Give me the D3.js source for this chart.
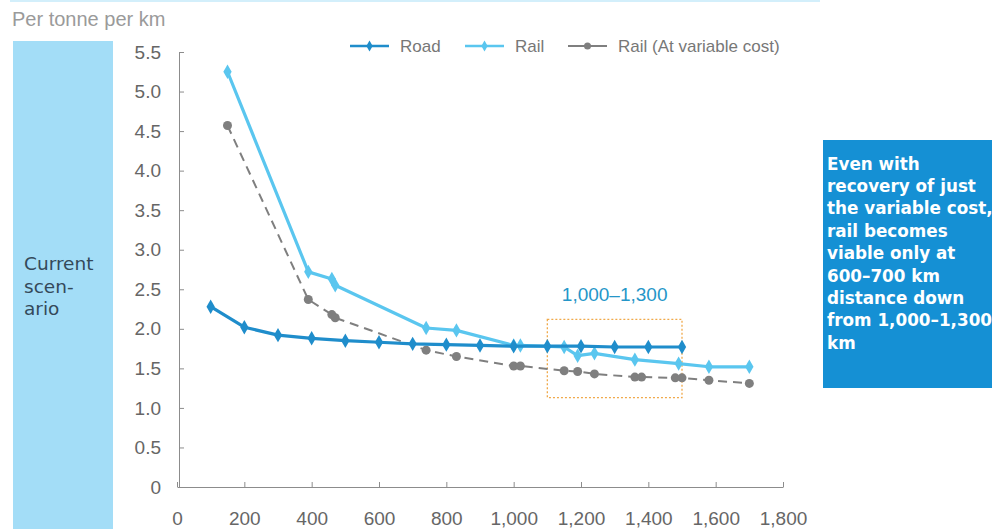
<!DOCTYPE html>
<html>
<head>
<meta charset="utf-8">
<script src="https://cdn.jsdelivr.net/npm/d3@7"></script>
<style>
  html, body { margin: 0; padding: 0; background: #fff; }
  svg { display: block; font-family: "Liberation Sans", Arial, sans-serif; }
</style>
</head>
<body>
<svg id="chart" width="992" height="529"></svg>
<script>
// Freight cost per tonne per km by haul distance (km)
const roadKm   = [100, 200, 300, 400, 500, 600, 700, 800, 900, 1000, 1100, 1200, 1300, 1400, 1500];
const roadCost = [2.28, 2.02, 1.92, 1.88, 1.85, 1.83, 1.81, 1.80, 1.79, 1.78, 1.78, 1.78, 1.77, 1.77, 1.77];

const railKm   = [150, 390, 460, 470, 740, 830, 1000, 1020, 1150, 1190, 1240, 1360, 1490, 1580, 1700];
const railCost = [5.25, 2.72, 2.63, 2.55, 2.01, 1.98, 1.79, 1.79, 1.77, 1.66, 1.69, 1.61, 1.56, 1.52, 1.52];

const varKm    = [150, 390, 460, 470, 740, 830, 1000, 1020, 1150, 1190, 1240, 1360, 1380, 1480, 1500, 1580, 1700];
const varCost  = [4.57, 2.37, 2.18, 2.14, 1.73, 1.65, 1.53, 1.53, 1.47, 1.46, 1.43, 1.39, 1.39, 1.38, 1.38, 1.35, 1.31];

const xTicks = [0, 200, 400, 600, 800, 1000, 1200, 1400, 1600, 1800];
const yTicks = [0, 0.5, 1.0, 1.5, 2.0, 2.5, 3.0, 3.5, 4.0, 4.5, 5.0, 5.5];

const seriesNames = ["Road", "Rail", "Rail (At variable  cost)"];
const highlightKm = [1100, 1500];
const highlightCost = [1.13, 2.12];
const highlightLabel = "1,000\u20131,300";
const noteLines = ["Even with", "recovery of just", "the variable cost,", "rail becomes",
  "viable only at", "600\u2013700 km", "distance down", "from 1,000\u20131,300", "km"];
const scenarioLines = ["Current", "scen-", "ario"];

const ROAD = "#1f8dcb", RAIL = "#5ac6ef", VAR = "#7f7f7f";

const svg = d3.select("#chart");

// thin band along the top edge
svg.append("rect").attr("x", 10).attr("y", 0).attr("width", 810).attr("height", 2)
  .attr("fill", "#d3effb");

// unit caption
svg.append("text").attr("x", 12).attr("y", 26).text("Per tonne per km")
  .attr("font-size", 20).attr("fill", "#9a9a9a");

// scenario side panel
svg.append("rect").attr("x", 13).attr("y", 41).attr("width", 100).attr("height", 500)
  .attr("fill", "#a3ddf7");
svg.append("g").selectAll("text").data(scenarioLines).join("text")
  .attr("x", 24).attr("y", (d, i) => 270 + i * 22.5)
  .attr("font-family", "DejaVu Sans, sans-serif")
  .attr("font-size", 18.5).attr("fill", "#34495a").text(d => d);

const x = d3.scaleLinear().domain([0, 1800]).range([177, 783]);
const y = d3.scaleLinear().domain([0, 5.5]).range([487, 52]);

// axes with inward ticks
const xAxis = svg.append("g").attr("transform", `translate(0,${y(0)})`)
  .call(d3.axisBottom(x).tickValues(xTicks).tickSizeInner(-5).tickSizeOuter(0).tickPadding(24)
    .tickFormat(d3.format(",")));
const yAxis = svg.append("g").attr("transform", `translate(${x(0) + 2},0)`)
  .call(d3.axisLeft(y).tickValues(yTicks).tickSizeInner(-5).tickSizeOuter(0).tickPadding(18)
    .tickFormat(d => d === 0 ? "0" : d3.format(".1f")(d)));
[xAxis, yAxis].forEach(a => {
  a.select(".domain").attr("stroke", "#8c8c8c");
  a.selectAll(".tick line").attr("stroke", "#8c8c8c");
  a.selectAll(".tick text").attr("fill", "#666").attr("font-size", 19)
    .attr("font-family", "Liberation Sans, Arial, sans-serif");
});
xAxis.selectAll(".tick text").attr("dy", "0.75em");

// highlighted distance band
svg.append("rect")
  .attr("x", x(highlightKm[0])).attr("y", y(highlightCost[1]))
  .attr("width", x(highlightKm[1]) - x(highlightKm[0]))
  .attr("height", y(highlightCost[0]) - y(highlightCost[1]))
  .attr("fill", "none").attr("stroke", "#f0a94a").attr("stroke-width", 1.3)
  .attr("stroke-dasharray", "2,2");
svg.append("text")
  .attr("x", x((highlightKm[0] + highlightKm[1]) / 2)).attr("y", 301)
  .attr("text-anchor", "middle").attr("font-size", 19).attr("fill", "#2596c8")
  .text(highlightLabel);

const line = d3.line().x(d => x(d[0])).y(d => y(d[1]));
const diamond = d3.symbol().type(d3.symbolDiamond).size(60);

function drawSeries(kms, vals, color, width, dash, marker) {
  const pts = kms.map((k, i) => [k, vals[i]]);
  const g = svg.append("g");
  g.append("path").datum(pts).attr("d", line).attr("fill", "none")
    .attr("stroke", color).attr("stroke-width", width)
    .attr("stroke-dasharray", dash || null).attr("stroke-linejoin", "round");
  if (marker === "diamond") {
    g.selectAll("path.m").data(pts).join("path").attr("class", "m")
      .attr("d", diamond).attr("fill", color)
      .attr("transform", d => `translate(${x(d[0])},${y(d[1])})`);
  } else {
    g.selectAll("circle").data(pts).join("circle")
      .attr("cx", d => x(d[0])).attr("cy", d => y(d[1])).attr("r", 4.5).attr("fill", color);
  }
}

drawSeries(varKm, varCost, VAR, 2, "9,6", "circle");
drawSeries(railKm, railCost, RAIL, 3.2, null, "diamond");
drawSeries(roadKm, roadCost, ROAD, 3.2, null, "diamond");

// legend
const legend = [
  { name: seriesNames[0], color: ROAD, x0: 350, marker: "diamond", w: 2.5 },
  { name: seriesNames[1], color: RAIL, x0: 465, marker: "diamond", w: 2.5 },
  { name: seriesNames[2], color: VAR, x0: 568, marker: "circle", w: 2 }
];
const lg = svg.append("g").selectAll("g").data(legend).join("g")
  .attr("transform", d => `translate(${d.x0},46)`);
lg.append("line").attr("x1", 0).attr("x2", 39).attr("stroke", d => d.color)
  .attr("stroke-width", d => d.w);
lg.each(function (d) {
  const g = d3.select(this);
  if (d.marker === "diamond") {
    g.append("path").attr("d", d3.symbol().type(d3.symbolDiamond).size(35))
      .attr("transform", "translate(19.5,0)").attr("fill", d.color);
  } else {
    g.append("circle").attr("cx", 19.5).attr("r", 3.5).attr("fill", d.color);
  }
});
lg.append("text").attr("x", 50).attr("y", 6).attr("font-size", 17).attr("fill", "#777")
  .text(d => d.name);

// takeaway note
svg.append("rect").attr("x", 823).attr("y", 140).attr("width", 175).attr("height", 248)
  .attr("fill", "#1590d4");
svg.append("g").selectAll("text").data(noteLines).join("text")
  .attr("x", 827).attr("y", (d, i) => 169.5 + i * 22.4)
  .attr("font-family", "DejaVu Sans, sans-serif")
  .attr("font-size", 16.8).attr("font-weight", "bold").attr("fill", "#fff")
  .text(d => d);
</script>
</body>
</html>
